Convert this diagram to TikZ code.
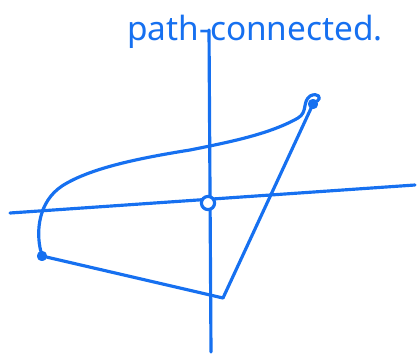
\documentclass[tikz,border=0pt]{standalone}
\usepackage{fontspec}
\setmainfont{Noto Sans}
\usepackage{xcolor}
\usetikzlibrary{calc, positioning}
\definecolor{penblue}{RGB}{22,112,240}

\begin{document}
\begin{tikzpicture}[x=0.02cm, y=-0.02cm, line cap=round, line join=round,
    pen/.style={draw=penblue, line width=1.8pt}]

    \useasboundingbox (0,0) rectangle (418,358);

    % =================================================================
    % 1. TRUC TOA DO
    % =================================================================
    \coordinate (xl) at (10,213);
    \coordinate (xr) at (415,185);
    \coordinate (yt) at (209,30);
    \coordinate (yb) at (211,352);
    \draw[pen] (xl) -- (xr);
    \draw[pen] (yt) -- (yb);

    % Goc toa do O
    \node[pen, circle, fill=white, inner sep=0pt, minimum size=7.5pt] (O) at (208,203) {};

    % =================================================================
    % 2. CAC DIEM
    % =================================================================
    \node[pen, circle, fill=penblue, inner sep=0pt, minimum size=4pt] (A) at (313,104) {};
    \node[pen, circle, fill=penblue, inner sep=0pt, minimum size=4pt] (B) at (42,256) {};
    \coordinate (C) at (223,298);

    % =================================================================
    % 3. DUONG CONG NOI A VA B
    % =================================================================
    \draw[pen] (A) .. controls (322,98) and (318,92) .. (310,96)
        .. controls (302,102) and (308,112) .. (298,118)
        .. controls (270,134) and (230,142) .. (190,150)
        .. controls (140,158) and (90,168) .. (62,186)
        .. controls (38,202) and (36,232) .. (B);

    % Duong gap khuc B -- C -- A
    \draw[pen] (B) -- (C) -- (A);

    % =================================================================
    % 4. NHAN
    % =================================================================
    \node[text=penblue, font=\fontsize{19}{22}\selectfont] (title) at (255,32) {path-connected.};

\end{tikzpicture}
\end{document}
